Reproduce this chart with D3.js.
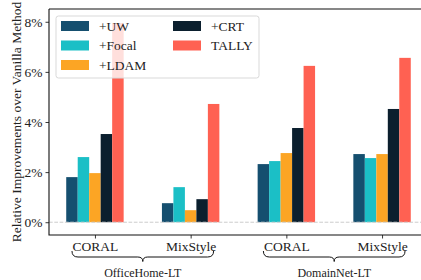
<!DOCTYPE html>
<meta charset="utf-8">
<script src="https://d3js.org/d3.v7.min.js"></script>
<body style="margin:0">
<svg width="421" height="280"></svg>
<style>
  svg text { font-family: "Liberation Serif", "DejaVu Serif", serif; fill: #222; }
</style>
<script>
  // groups along the x axis
  var groups   = ["CORAL", "MixStyle", "CORAL", "MixStyle"];
  var datasets = ["OfficeHome-LT", "DomainNet-LT"];
  var methods  = ["+UW", "+Focal", "+LDAM", "+CRT", "TALLY"];
  var colors   = ["#154f6f", "#1bbfc6", "#fca524", "#0b1f2e", "#ff6152"];

  // relative improvements (%), one array per method, one value per group
  var uw    = [1.80, 0.76, 2.32, 2.72];
  var focal = [2.60, 1.40, 2.44, 2.56];
  var ldam  = [1.96, 0.48, 2.76, 2.72];
  var crt   = [3.52, 0.92, 3.76, 4.52];
  var tally = [7.95, 4.72, 6.24, 6.56];
  var series = [uw, focal, ldam, crt, tally];

  var yTicks = [0, 2, 4, 6, 8];

  var svg = d3.select("svg");
  var barW = 0.12;

  var x = d3.scaleLinear().domain([-0.48, 3.48]).range([49, 428]);
  var y = d3.scaleLinear().domain([-0.51, 8.51]).range([235, 9]);

  // bars
  series.forEach(function(vals, i){
    svg.append("g").selectAll("rect").data(vals).enter().append("rect")
      .attr("x", function(d, g){ return x(g + (i - 2.5) * barW); })
      .attr("width", x(barW) - x(0))
      .attr("y", function(d){ return y(d); })
      .attr("height", function(d){ return y(0) - y(d); })
      .attr("fill", colors[i]);
  });

  // zero line
  svg.append("line")
    .attr("x1", 49).attr("x2", 428)
    .attr("y1", y(0)).attr("y2", y(0))
    .attr("stroke", "#cccccc").attr("stroke-width", 1)
    .attr("stroke-dasharray", "3.7,1.6");

  // axes
  var yAxis = d3.axisLeft(y).tickValues(yTicks).tickSize(3.5).tickPadding(3)
    .tickFormat(function(d){ return d + "%"; });
  var gy = svg.append("g").attr("transform", "translate(49,0)").call(yAxis);
  var xAxis = d3.axisBottom(x).tickValues(d3.range(groups.length)).tickSize(3.5).tickPadding(3)
    .tickFormat(function(d){ return groups[d]; });
  var gx = svg.append("g").attr("transform", "translate(0,235)").call(xAxis);
  [gx, gy].forEach(function(g){
    g.select(".domain").remove();
    g.selectAll("text").style("font-size", "13.5px").attr("fill", "#222");
    g.selectAll(".tick line").attr("stroke", "#222").attr("stroke-width", 0.9);
  });

  // spines
  svg.append("path")
    .attr("d", "M49,9V235H428M49,9H428")
    .attr("fill", "none").attr("stroke", "#111").attr("stroke-width", 1.1);

  // y label
  svg.append("text")
    .attr("transform", "translate(20.5,122) rotate(-90)")
    .attr("text-anchor", "middle")
    .style("font-size", "13.5px")
    .text("Relative Improvements over Vanilla Method");

  // braces under each dataset
  datasets.forEach(function(name, k){
    var x0 = x(2 * k - 0.24), x1 = x(2 * k + 1 + 0.24), m = (x0 + x1) / 2;
    var top = 251, h = 257, tip = 261.5;
    svg.append("path")
      .attr("d", "M" + x0 + "," + top + "Q" + x0 + "," + h + " " + (x0 + 6) + "," + h +
                 "L" + (m - 5) + "," + h + "Q" + m + "," + h + " " + m + "," + tip +
                 "Q" + m + "," + h + " " + (m + 5) + "," + h +
                 "L" + (x1 - 6) + "," + h + "Q" + x1 + "," + h + " " + x1 + "," + top)
      .attr("fill", "none").attr("stroke", "#111").attr("stroke-width", 1);
    svg.append("text")
      .attr("x", m).attr("y", 277)
      .attr("text-anchor", "middle")
      .style("font-size", "12px")
      .text(name);
  });

  // legend
  var lg = svg.append("g");
  lg.append("rect")
    .attr("x", 56).attr("y", 16).attr("width", 203).attr("height", 62)
    .attr("rx", 2.5)
    .attr("fill", "white").attr("fill-opacity", 0.8)
    .attr("stroke", "#d9d9d9").attr("stroke-width", 1);
  methods.forEach(function(m, i){
    var col = i < 3 ? 0 : 1, row = i < 3 ? i : i - 3;
    var px = col ? 173 : 61, py = 26 + row * 19.5;
    lg.append("rect")
      .attr("x", px).attr("y", py - 5).attr("width", 28).attr("height", 10)
      .attr("fill", colors[i]);
    lg.append("text")
      .attr("x", px + 38).attr("y", py + 4.7)
      .style("font-size", "13.5px")
      .text(m);
  });
</script>
</body>
